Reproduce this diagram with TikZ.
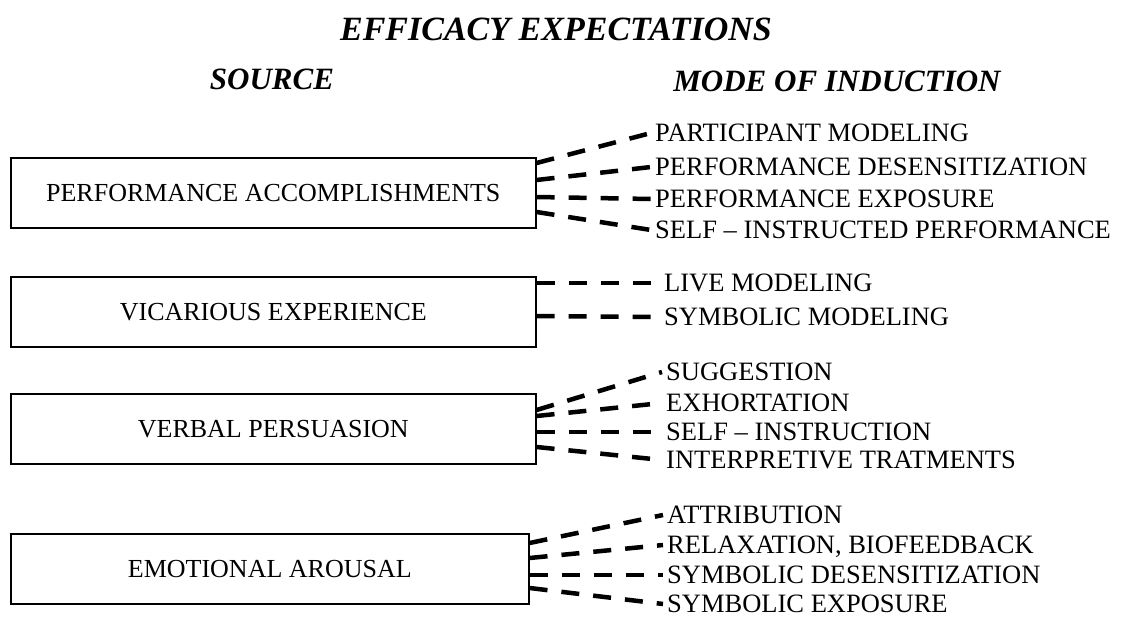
\documentclass[tikz,border=0pt]{standalone}
\usepackage{fontspec}
\setmainfont{Liberation Serif}
\usetikzlibrary{calc}
\begin{document}
\begin{tikzpicture}[x=1pt,y=-1pt,
  srcbox/.style={draw, line width=1.6pt, minimum height=70pt, anchor=north west,
    inner sep=0pt, font=\fontsize{26}{30}\selectfont},
  mode/.style={anchor=west, inner xsep=4pt, inner ysep=0pt, text height=17.5pt,
    text depth=0pt, font=\fontsize{26.5}{30}\selectfont},
  head/.style={inner sep=0pt, text height=20.5pt, text depth=0pt,
    font=\fontsize{31}{36}\selectfont\bfseries\itshape},
  link/.style={line width=4.5pt, dash pattern=on 18pt off 14pt}]
\useasboundingbox (0,0) rectangle (1122,618);

% headings
\node[head, text height=22.5pt, font=\fontsize{34}{40}\selectfont\bfseries\itshape]
  (title) at (556,29) {EFFICACY EXPECTATIONS};
\node[head] (hsrc)  at (272,79) {SOURCE};
\node[head] (hmode) at (837,81) {MODE OF INDUCTION};

% sources
\node[srcbox, minimum width=525pt] (b1) at (10,157) {PERFORMANCE ACCOMPLISHMENTS};
\node[srcbox, minimum width=525pt] (b2) at (10,276) {VICARIOUS EXPERIENCE};
\node[srcbox, minimum width=525pt] (b3) at (10,393) {VERBAL PERSUASION};
\node[srcbox, minimum width=518pt] (b4) at (10,533) {EMOTIONAL AROUSAL};

% modes of induction
\node[mode] (m11) at (651,133) {PARTICIPANT MODELING};
\node[mode] (m12) at (651,167) {PERFORMANCE DESENSITIZATION};
\node[mode] (m13) at (651,199) {PERFORMANCE EXPOSURE};
\node[mode] (m14) at (651,230) {SELF -- INSTRUCTED PERFORMANCE};

\node[mode] (m21) at (660,283) {LIVE MODELING};
\node[mode] (m22) at (660,317) {SYMBOLIC MODELING};

\node[mode] (m31) at (662,372) {SUGGESTION};
\node[mode] (m32) at (662,403) {EXHORTATION};
\node[mode] (m33) at (662,432) {SELF -- INSTRUCTION};
\node[mode] (m34) at (662,460) {INTERPRETIVE TRATMENTS};

\node[mode] (m41) at (663,515) {ATTRIBUTION};
\node[mode] (m42) at (663,545) {RELAXATION, BIOFEEDBACK};
\node[mode] (m43) at (663,575) {SYMBOLIC DESENSITIZATION};
\node[mode] (m44) at (663,604) {SYMBOLIC EXPOSURE};

% dashed links
\draw[link] ($(b1.north east)+(0,6)$)  -- (m11.west);
\draw[link] ($(b1.north east)+(0,23)$) -- (m12.west);
\draw[link] ($(b1.north east)+(0,40)$) -- (m13.west);
\draw[link] ($(b1.north east)+(0,55)$) -- (m14.west);

\draw[link] ($(b2.north east)+(0,7)$)  -- (m21.west);
\draw[link] ($(b2.north east)+(0,40)$) -- (m22.west);

\draw[link] ($(b3.north east)+(0,17)$) -- (m31.west);
\draw[link] ($(b3.north east)+(0,23)$) -- (m32.west);
\draw[link] ($(b3.north east)+(0,39)$) -- (m33.west);
\draw[link] ($(b3.north east)+(0,54)$) -- (m34.west);

\draw[link] ($(b4.north east)+(0,10)$) -- (m41.west);
\draw[link] ($(b4.north east)+(0,25)$) -- (m42.west);
\draw[link] ($(b4.north east)+(0,42)$) -- (m43.west);
\draw[link] ($(b4.north east)+(0,55)$) -- (m44.west);
\end{tikzpicture}
\end{document}
